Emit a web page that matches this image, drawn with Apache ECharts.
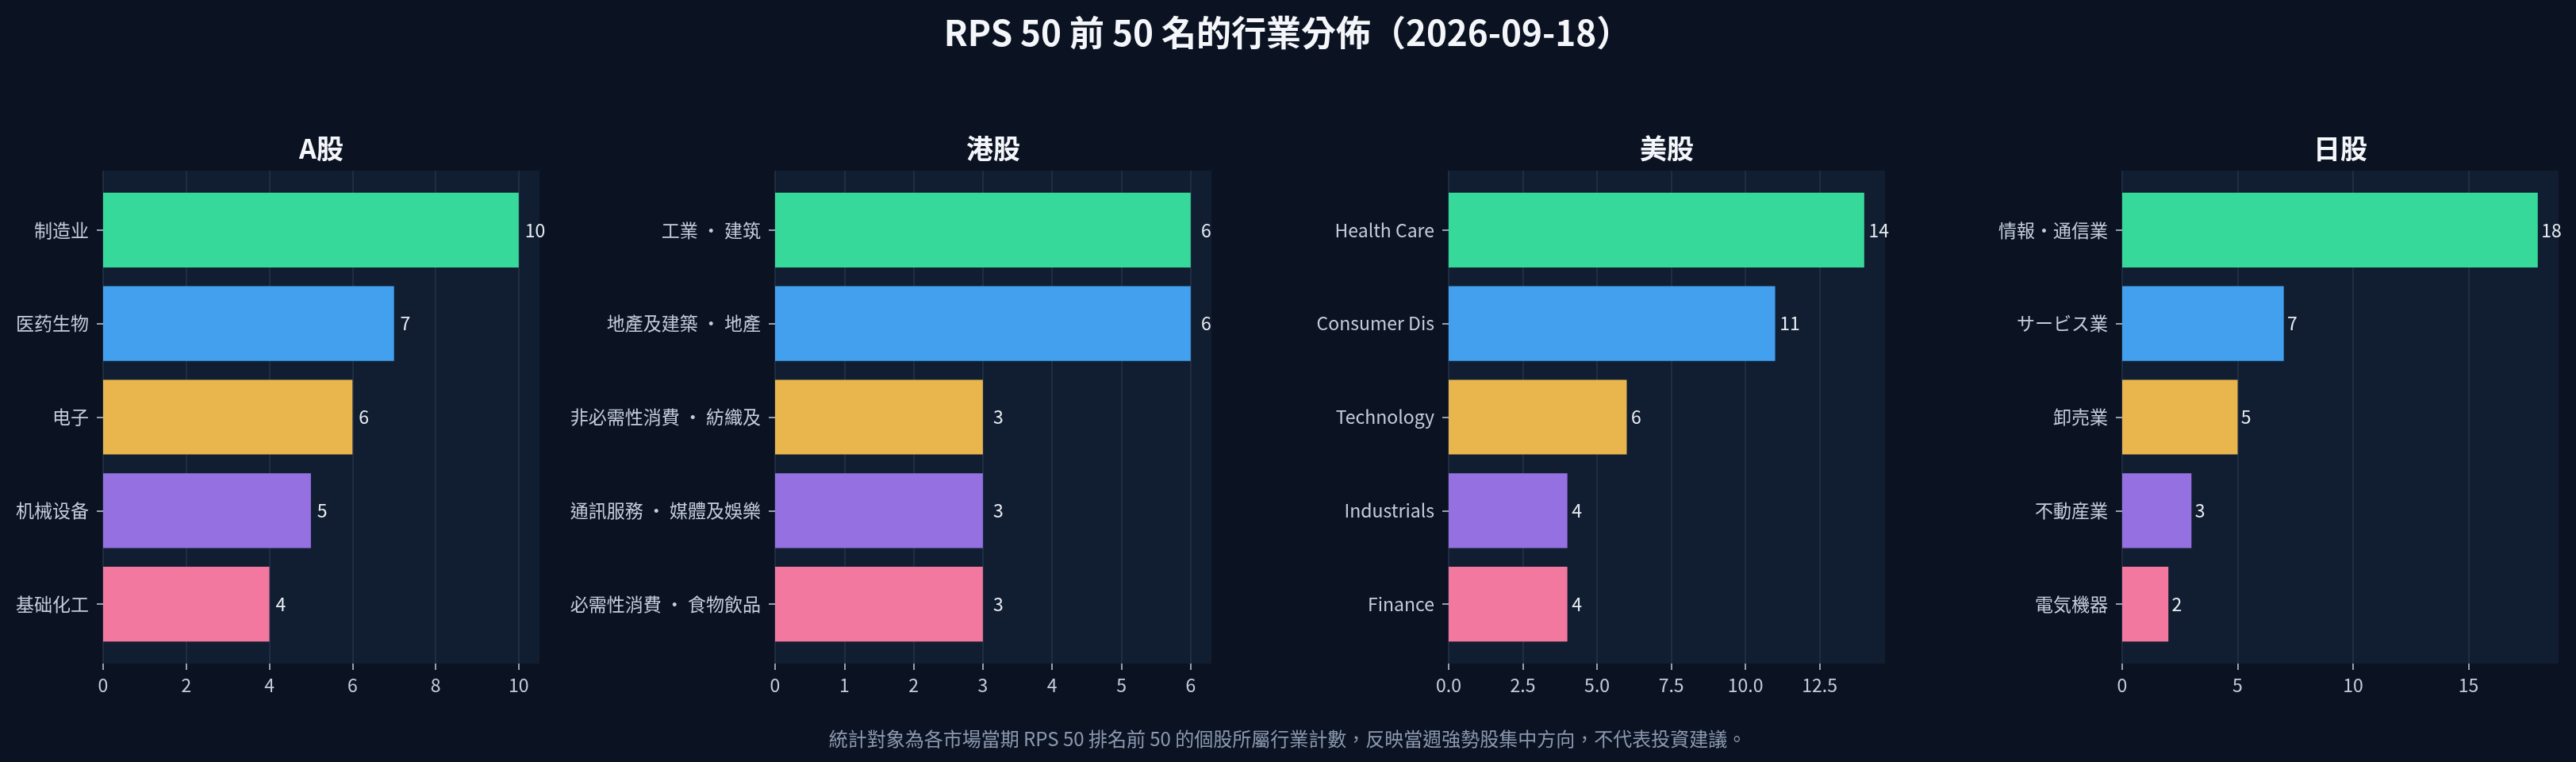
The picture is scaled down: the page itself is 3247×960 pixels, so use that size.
<!DOCTYPE html>
<html>
<head>
<meta charset="utf-8">
<title>RPS 50 行業分佈</title>
<script src="https://cdn.jsdelivr.net/npm/echarts@6/dist/echarts.min.js"></script>
<style>
  html, body { margin: 0; padding: 0; background: #0b1322; }
  #chart { width: 3247px; height: 960px; }
</style>
</head>
<body>
<div id="chart"></div>
<script>
// panel titles
const markets = ['A股', '港股', '美股', '日股'];

// top industries per market (count of stocks in RPS 50 top 50)
const aCats = ['制造业', '医药生物', '电子', '机械设备', '基础化工'];
const aVals = [10, 7, 6, 5, 4];
const hkCats = ['工業 ・ 建筑', '地產及建築 ・ 地產', '非必需性消費 ・ 紡織及', '通訊服務 ・ 媒體及娛樂', '必需性消費 ・ 食物飲品'];
const hkVals = [6, 6, 3, 3, 3];
const usCats = ['Health Care', 'Consumer Dis', 'Technology', 'Industrials', 'Finance'];
const usVals = [14, 11, 6, 4, 4];
const jpCats = ['情報・通信業', 'サービス業', '卸売業', '不動産業', '電気機器'];
const jpVals = [18, 7, 5, 3, 2];

// x tick labels
const aTicks = [0, 2, 4, 6, 8, 10];
const hkTicks = [0, 1, 2, 3, 4, 5, 6];
const usTicks = [0, 2.5, 5, 7.5, 10, 12.5];
const jpTicks = [0, 5, 10, 15];

const barColors = ['#37d99b', '#42a0ee', '#e9b54d', '#9570e0', '#f2789f'];

const title = 'RPS 50 前 50 名的行業分佈（2026-09-18）';
const footnote = '統計對象為各市場當期 RPS 50 排名前 50 的個股所屬行業計數，反映當週強勢股集中方向，不代表投資建議。';

const panels = [
  { name: markets[0], cats: aCats, vals: aVals, ticks: aTicks, font: 'Noto Sans CJK SC' },
  { name: markets[1], cats: hkCats, vals: hkVals, ticks: hkTicks, font: 'Noto Sans CJK TC' },
  { name: markets[2], cats: usCats, vals: usVals, ticks: usTicks, font: 'Noto Sans CJK TC', dec: 1 },
  { name: markets[3], cats: jpCats, vals: jpVals, ticks: jpTicks, font: 'Noto Sans CJK JP' }
];

const FONT = 'Noto Sans CJK TC';
const lefts = [130, 977, 1826, 2675];
const plotW = 550;
const plotTop = 215, plotH = 621;   // dark plot area
const barTop = 231, barH = 589;     // band area of the 5 categories

let grid = [], xAxis = [], yAxis = [], series = [], title_ = [];

title_.push({
  text: title, left: 1623, top: 19, textAlign: 'center', padding: 0,
  textStyle: { color: '#f4f6fa', fontSize: 44, fontWeight: 'bold', fontFamily: FONT, lineHeight: 44 }
});
title_.push({
  text: footnote, left: 1623, top: 919, textAlign: 'center', padding: 0,
  textStyle: { color: '#8b99b0', fontSize: 24, fontWeight: 'normal', fontFamily: FONT, lineHeight: 24 }
});

panels.forEach((p, i) => {
  const xMax = Math.max(...p.vals) * 1.05;
  const left = lefts[i];

  title_.push({
    text: p.name, left: left + plotW / 2, top: 170, textAlign: 'center', padding: 0,
    textStyle: { color: '#f4f6fa', fontSize: 34, fontWeight: 'bold', fontFamily: FONT, lineHeight: 34 }
  });

  // background grid: plot fill, split lines, x tick labels
  grid.push({
    left: left, top: plotTop, width: plotW, height: plotH, containLabel: false,
    show: true, backgroundColor: '#111d30', borderWidth: 0
  });
  xAxis.push({
    type: 'value', gridIndex: 2 * i, min: 0, max: xMax,
    axisLine: { show: false },
    axisTick: { show: true, length: 8, customValues: p.ticks, lineStyle: { color: '#c3cddb', width: 1.5 } },
    axisLabel: {
      customValues: p.ticks, margin: 16, color: '#c3cddb', fontSize: 23, fontFamily: FONT,
      formatter: v => p.dec ? v.toFixed(p.dec) : String(v)
    },
    splitLine: { show: true, lineStyle: { color: '#24334a', width: 1.5 } }
  });
  yAxis.push({ type: 'value', gridIndex: 2 * i, show: false });

  // bar grid
  grid.push({ left: left, top: barTop, width: plotW, height: barH, containLabel: false });
  xAxis.push({ type: 'value', gridIndex: 2 * i + 1, min: 0, max: xMax, show: false });
  yAxis.push({
    type: 'category', gridIndex: 2 * i + 1, data: p.cats, inverse: true,
    axisLine: { show: false },
    axisTick: { show: true, alignWithLabel: true, length: 8, lineStyle: { color: '#c3cddb', width: 1.5 } },
    axisLabel: { margin: 18, color: '#c3cddb', fontSize: 23, fontFamily: p.font }
  });

  series.push({
    type: 'bar', xAxisIndex: 2 * i + 1, yAxisIndex: 2 * i + 1,
    barWidth: '80%',
    data: p.vals.map((v, k) => ({ value: v, itemStyle: { color: barColors[k] } })),
    label: {
      show: true, position: 'right', distance: 0.15 * plotW / xMax,
      color: '#e8edf3', fontSize: 23, fontFamily: FONT
    },
    silent: true
  });
});

const chart = echarts.init(document.getElementById('chart'), null, { renderer: 'canvas' });
chart.setOption({
  backgroundColor: '#0b1322',
  animation: false,
  title: title_,
  grid: grid,
  xAxis: xAxis,
  yAxis: yAxis,
  series: series
});
</script>
</body>
</html>
